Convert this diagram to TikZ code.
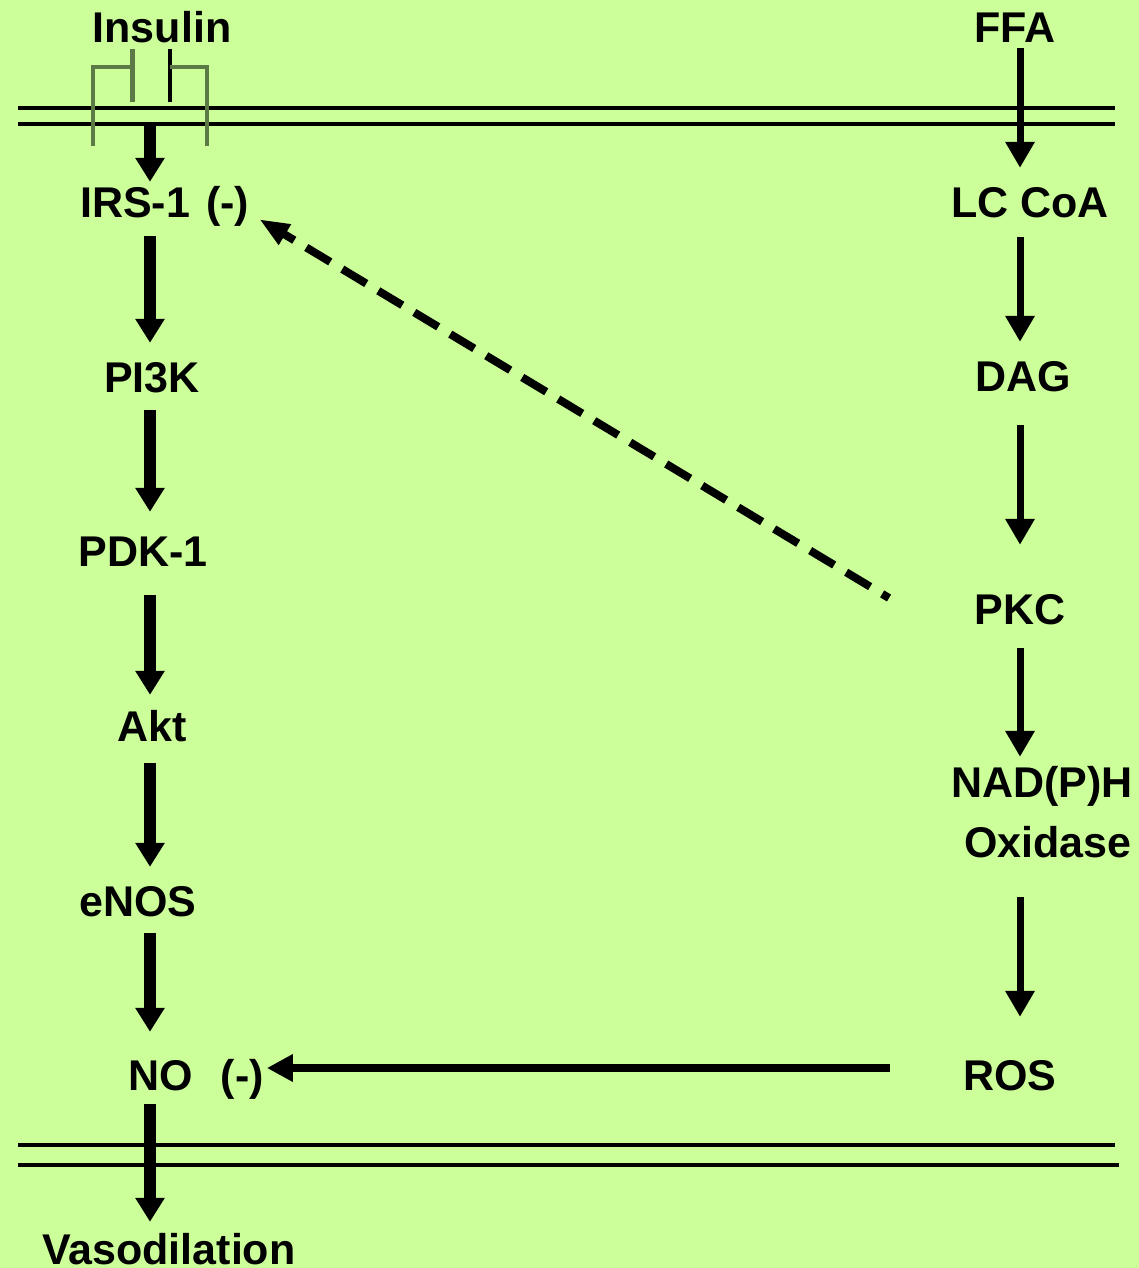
\documentclass[tikz,border=0pt]{standalone}
\usepackage{fontspec}
\setmainfont{Liberation Sans}
\usetikzlibrary{arrows.meta,calc}
\definecolor{bgg}{HTML}{CCFF99}
\definecolor{rec}{HTML}{5C7A45}
\tikzset{
  lbl/.style={font=\fontsize{43}{50}\selectfont\bfseries, inner sep=0pt, text height=30pt, text depth=0pt, anchor=base},
  lblw/.style={lbl, anchor=base west},
  bigarr/.style={line width=12pt, -{Triangle[width=28pt,length=24pt]}},
  medarr/.style={line width=7pt, -{Triangle[width=28pt,length=26pt]}},
  horarr/.style={line width=8pt, -{Triangle[width=26pt,length=26pt]}},
  dasharr/.style={line width=8pt, dash pattern=on 28pt off 14pt, dash phase=20pt, -{Triangle[width=22pt,length=30pt]}},
  memb/.style={line width=4pt},
  recline/.style={line width=4pt, rec}
}
\begin{document}
\begin{tikzpicture}[x=1pt,y=-1pt]
\fill[bgg] (0,0) rectangle (1139,1268);
\useasboundingbox (0,0) rectangle (1139,1268);
% membranes
\draw[memb] (18,108) -- (1115,108);
\draw[memb] (18,124) -- (1115,124);
\draw[memb] (18,1145) -- (1115,1145);
\draw[memb] (18,1165) -- (1119,1165);
% receptor
\draw[recline] (93,146) -- (93,67) -- (132,67);
\draw[recline, line width=5pt] (132,49) -- (132,102);
\draw[line width=3.5pt] (170,49) -- (170,102);
\draw[recline] (170,67) -- (207,67) -- (207,146);
% columns
\coordinate (L) at (150,0);
\coordinate (R) at (1020,0);
\coordinate (memL) at (150,124);
\coordinate (yr) at (0,1068);
\coordinate (dashS) at (889,598);
% left labels
\node[lbl] (ins) at (162,43) {Insulin};
\node[lblw] (irs) at (80,218) {IRS-1\hspace{16pt}(-)};
\node[lbl] (pi) at (152,392) {PI3K};
\node[lbl] (pdk) at (143,566) {PDK-1};
\node[lbl] (akt) at (152,741) {Akt};
\node[lbl] (enos) at (138,916) {eNOS};
\node[lblw] (no) at (128,1090) {NO\hspace{28pt}(-)};
\node[lblw] (vaso) at (42,1264) {Vasodilation};
% right labels
\node[lbl] (ffa) at (1015,43) {FFA};
\node[lbl] (lc) at (1030,217) {LC CoA};
\node[lbl] (dag) at (1023,391) {DAG};
\node[lbl] (pkc) at (1020,624) {PKC};
\node[lbl] (nad) at (1042,797) {NAD(P)H};
\node[lbl] (oxi) at (1048,857) {Oxidase};
\node[lbl] (ros) at (1010,1090) {ROS};
% left arrows
\draw[bigarr] (memL) -- ($(irs.north -| L)+(0,-6)$);
\draw[bigarr] ($(irs.south -| L)+(0,18)$) -- ($(pi.north -| L)+(0,-19)$);
\draw[bigarr] ($(pi.south -| L)+(0,18)$) -- ($(pdk.north -| L)+(0,-24)$);
\draw[bigarr] ($(pdk.south -| L)+(0,29)$) -- ($(akt.north -| L)+(0,-16)$);
\draw[bigarr] ($(akt.south -| L)+(0,22)$) -- ($(enos.north -| L)+(0,-19)$);
\draw[bigarr] ($(enos.south -| L)+(0,17)$) -- ($(no.north -| L)+(0,-28)$);
\draw[bigarr] ($(no.south -| L)+(0,14)$) -- ($(vaso.north -| L)+(0,-12)$);
% right arrows
\draw[medarr] ($(ffa.south -| R)+(0,5)$) -- ($(lc.north -| R)+(0,-19)$);
\draw[medarr] ($(lc.south -| R)+(0,20)$) -- ($(dag.north -| R)+(0,-19)$);
\draw[medarr] ($(dag.south -| R)+(0,34)$) -- ($(pkc.north -| R)+(0,-49)$);
\draw[medarr] ($(pkc.south -| R)+(0,24)$) -- ($(nad.north -| R)+(0,-10)$);
\draw[medarr] ($(oxi.south -| R)+(0,40)$) -- ($(ros.north -| R)+(0,-43)$);
% cross arrows
\draw[horarr] ($(ros.west |- yr)+(-73,0)$) -- ($(no.east |- yr)+(3,0)$);
\draw[dasharr] (dashS) -- ($(irs.south east)+(10,1)$);
\end{tikzpicture}
\end{document}
